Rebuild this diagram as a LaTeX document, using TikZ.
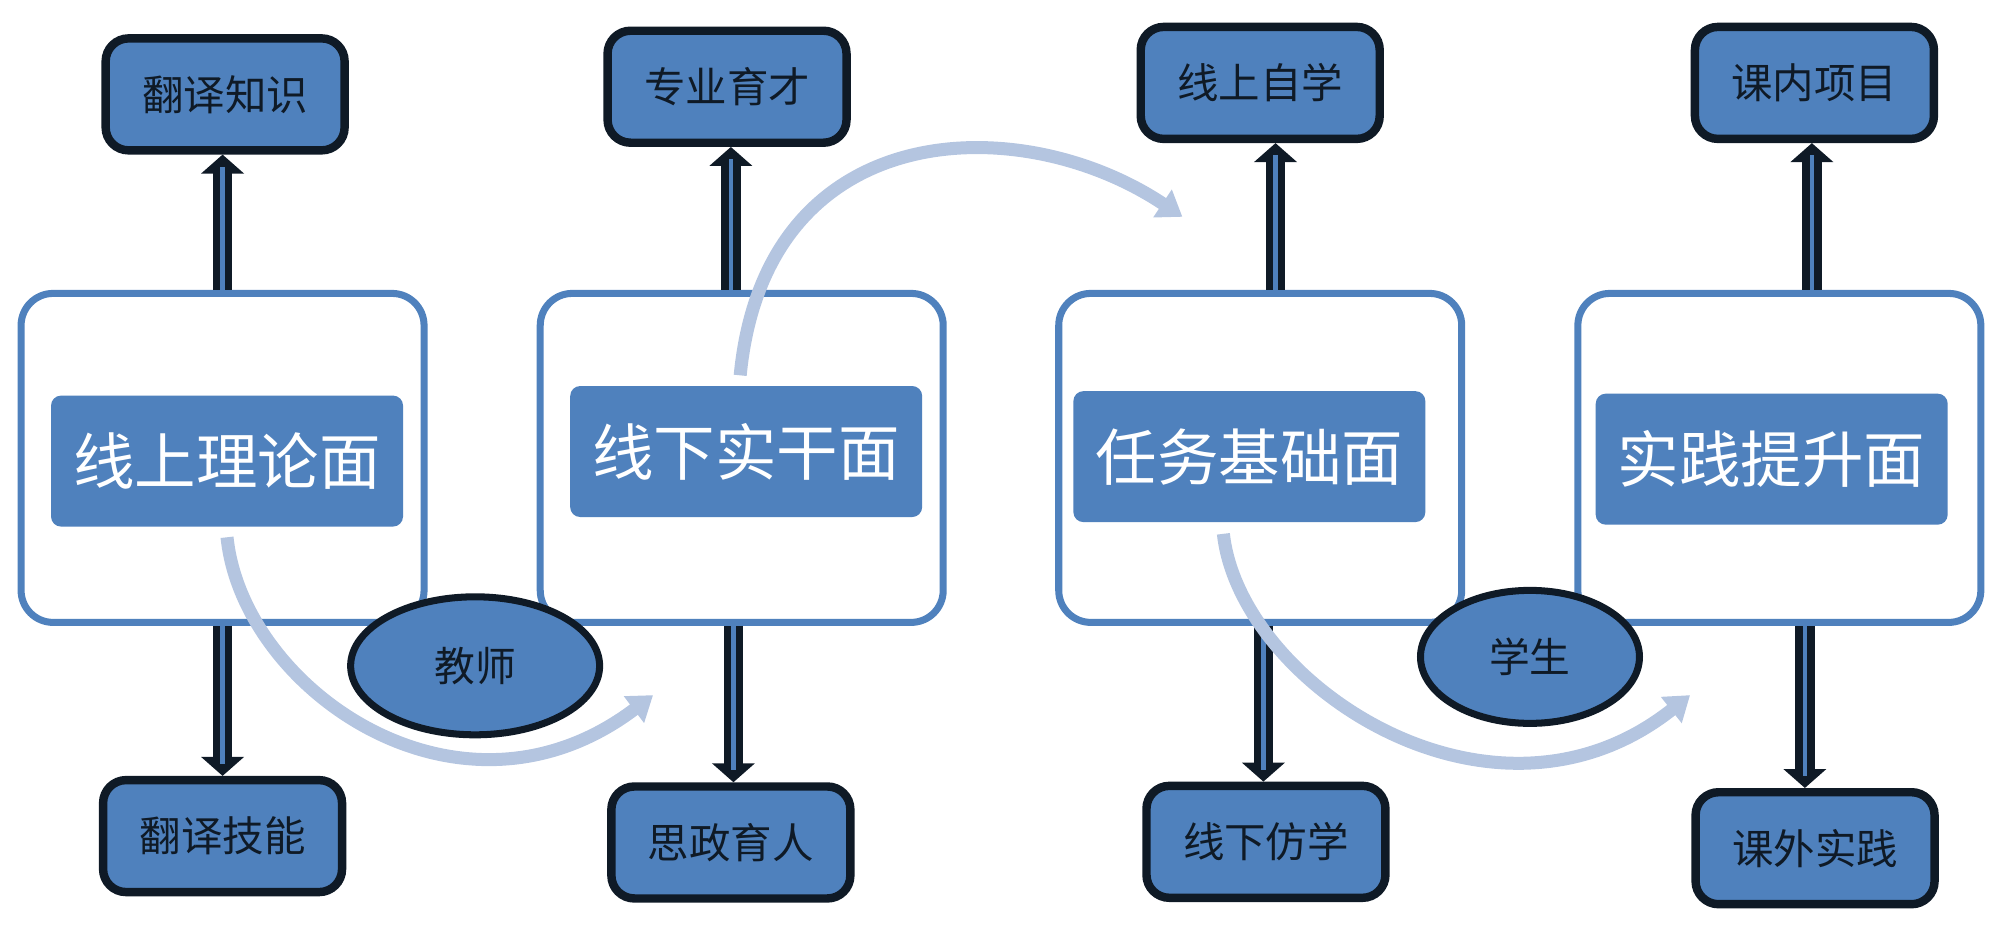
\documentclass[tikz,border=0pt]{standalone}
\usepackage{fontspec}
\setmainfont{Noto Sans CJK SC}
\usetikzlibrary{arrows.meta,shapes.geometric,calc}
\definecolor{faceblue}{HTML}{4F81BD}
\definecolor{inkdark}{HTML}{0F1A26}
\definecolor{flowblue}{HTML}{B4C5E0}

\begin{document}
\begin{tikzpicture}
      [x=0.012755cm,y=-0.012755cm,
       frame/.style={draw=faceblue, line width=2pt, fill=white, rounded corners=0.32cm, minimum width=4.03cm, minimum height=3.29cm},
       face/.style={fill=faceblue, rounded corners=0.1cm, inner sep=0pt, minimum width=3.52cm, minimum height=1.31cm, text=white, font=\fontsize{17.5}{20}\selectfont},
       leaf/.style={draw=inkdark, line width=2.4pt, fill=faceblue, rounded corners=0.23cm, inner sep=0pt, minimum width=2.39cm, minimum height=1.12cm, text=inkdark, font=\fontsize{11.8}{14}\selectfont},
       role/.style={ellipse, draw=inkdark, line width=2pt, fill=faceblue, inner sep=0pt, text=inkdark, font=\fontsize{11.6}{14}\selectfont},
       pipe/.style={draw=inkdark, line width=5.5pt, -{Triangle[width=0.42cm,length=0.19cm]}},
       core/.style={draw=faceblue, line width=1.3pt, shorten >=0.12cm},
       flow/.style={draw=flowblue, line width=3.7pt, -{Triangle[width=0.32cm,length=0.24cm]}}]
    \useasboundingbox (0,0) rectangle (1568,726);

    \node[frame] (f1) at (174.5,359) {};
    \node[frame] (f2) at (581.5,359) {};
    \node[frame] (f3) at (988,359) {};
    \node[frame] (f4) at (1395,359) {};

    \node[face] (p1) at (178,361.5) {线上理论面};
    \node[face] (p2) at (585,354) {线下实干面};
    \node[face] (p3) at (979.5,358) {任务基础面};
    \node[face] (p4) at (1389,360) {实践提升面};

    \node[leaf] (t1) at (176.5,74) {翻译知识};
    \node[leaf] (t2) at (570,68) {专业育才};
    \node[leaf] (t3) at (988,65) {线上自学};
    \node[leaf] (t4) at (1422.5,65) {课内项目};
    \node[leaf] (b1) at (174.5,655.5) {翻译技能};
    \node[leaf] (b2) at (573,660.5) {思政育人};
    \node[leaf] (b3) at (992.5,660) {线下仿学};
    \node[leaf] (b4) at (1423,665) {课外实践};

    \foreach \f/\t/\dx in {f1/t1/-2, f2/t2/3, f3/t3/12, f4/t4/-2} {
      \coordinate (e) at ($(\t.south)+(\dx,0)$);
      \draw[pipe] (\f.north -| e) -- (e);
      \draw[core] (\f.north -| e) -- (e);
    }
    \foreach \f/\t/\dx in {f1/b1/0, f2/b2/2, f3/b3/-2, f4/b4/-8} {
      \coordinate (e) at ($(\t.north)+(\dx,0)$);
      \draw[pipe] (\f.south -| e) -- (e);
      \draw[core] (\f.south -| e) -- (e);
    }

    \coordinate (c1) at (512,545);
    \coordinate (c2) at (927,170);
    \coordinate (c3) at (1325,545);
    \draw[flow] ([yshift=-0.1cm]p1.south) .. controls (190,540) and (360,660) .. (c1);
    \draw[flow] ([xshift=-0.06cm,yshift=0.1cm]p2.north) .. controls (600,90) and (800,85) .. (c2);
    \draw[flow] ([xshift=-0.26cm,yshift=-0.11cm]p3.south) .. controls (972,536) and (1170,668) .. (c3);

    \node[role, minimum width=2.49cm, minimum height=1.38cm] (r1) at (372.5,522) {教师};
    \node[role, minimum width=2.19cm, minimum height=1.33cm] (r2) at (1199.5,515) {学生};
  \end{tikzpicture}
\end{document}
